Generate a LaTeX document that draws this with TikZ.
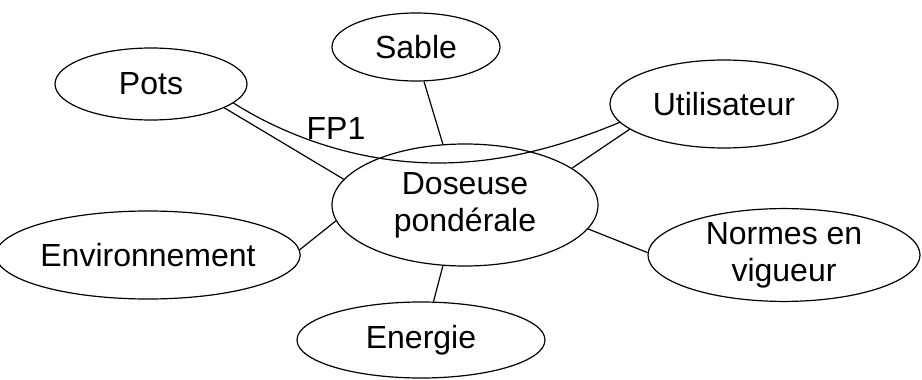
\documentclass[tikz,border=0pt]{standalone}
\usepackage{fontspec}
\setmainfont{Liberation Sans}
\usetikzlibrary{shapes.geometric}
\begin{document}
\begin{tikzpicture}[x=1pt,y=-1pt,
  every node/.style={font=\fontsize{32}{37}\selectfont},
  bubble/.style={ellipse,draw,line width=1.2pt,inner sep=0pt,align=center},
  link/.style={line width=1.2pt}]
\useasboundingbox (0,0) rectangle (922,380);
\node[bubble,minimum width=192pt,minimum height=72pt] (pots) at (151,84) {Pots};
\node[bubble,minimum width=168pt,minimum height=68pt] (sable) at (416,47) {Sable};
\node[bubble,minimum width=228pt,minimum height=88pt] (util) at (724,104) {Utilisateur};
\node[bubble,minimum width=266pt,minimum height=122pt] (dos) at (465,205) {Doseuse\\pondérale};
\node[bubble,minimum width=278pt,minimum height=88pt] (env) at (148,255) {Environnement};
\node[bubble,minimum width=272pt,minimum height=86pt] (norm) at (784,255) {Normes en\\vigueur};
\node[bubble,minimum width=248pt,minimum height=76pt] (ener) at (421,340) {Energie};
\node (fp1) at (336,128) {FP1};
\draw[link] (pots.-18) -- (dos.168.5);
\draw[link] (sable.-77) -- (dos.110);
\draw[link] (util.195.5) -- (dos.19);
\draw[link] (env.2) -- (dos.187.5);
\draw[link] (norm.179) -- (dos.-11);
\draw[link] (ener.72.5) -- (dos.250);
\coordinate (fpa) at (pots.-13);
\coordinate (fpb) at (util.190);
\coordinate (fpm) at (438,163);
\draw[link] (fpa) .. controls (292,140) and (365,163) .. (fpm) .. controls (505,163) and (565,145) .. (fpb);
\end{tikzpicture}
\end{document}
